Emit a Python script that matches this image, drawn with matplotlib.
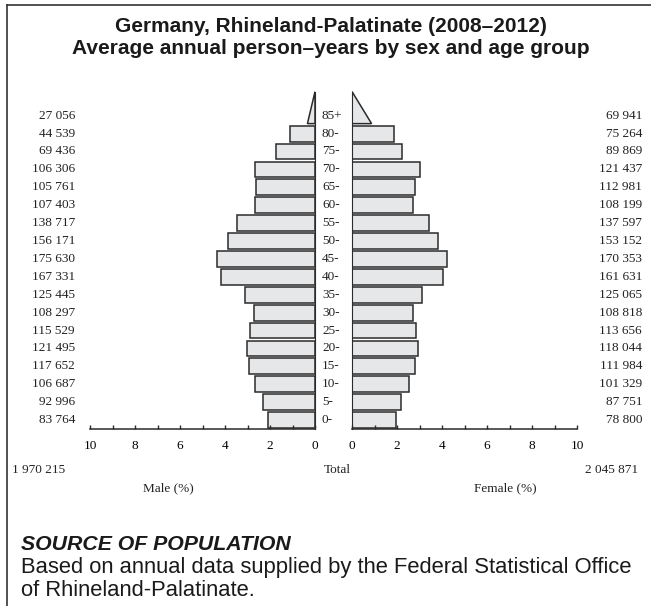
import numpy as np
import matplotlib
matplotlib.use("Agg")
import matplotlib.pyplot as plt
from matplotlib.patches import Polygon
from matplotlib.lines import Line2D

ages = ["0-", "5-", "10-", "15-", "20-", "25-", "30-", "35-", "40-", "45-",
        "50-", "55-", "60-", "65-", "70-", "75-", "80-", "85+"]
male = [83764, 92996, 106687, 117652, 121495, 115529, 108297, 125445, 167331,
        175630, 156171, 138717, 107403, 105761, 106306, 69436, 44539, 27056]
female = [78800, 87751, 101329, 111984, 118044, 113656, 108818, 125065, 161631,
          170353, 153152, 137597, 108199, 112981, 121437, 89869, 75264, 69941]
ticks = [0, 2, 4, 6, 8, 10]

W, H = 651, 606
serif = "Liberation Serif"
sans = "Liberation Sans"
face = "#e6e7e9"
edge = "#2b2b2b"


def fx(x):
    return x / W


def fy(y):
    return 1 - y / H


def fmt(n):
    return f"{n:,}".replace(",", " ")


total = sum(male) + sum(female)
male_pct = [100 * v / total for v in male]
female_pct = [100 * v / total for v in female]

fig = plt.figure(figsize=(W / 100, H / 100), dpi=100)

# frame: top and left only
fig.add_artist(Line2D([fx(7), 1], [fy(5), fy(5)], color="#333333", lw=1.2))
fig.add_artist(Line2D([fx(7), fx(7)], [fy(5), 0], color="#333333", lw=1.2))

fig.text(fx(331), fy(27), "Germany, Rhineland-Palatinate (2008–2012)",
         ha="center", va="center", fontsize=15, fontweight="bold", family=sans,
         color="#1a1a1a")
fig.text(fx(331), fy(48), "Average annual person–years by sex and age group",
         ha="center", va="center", fontsize=15, fontweight="bold", family=sans,
         color="#1a1a1a")

y_bot, y_top = 429, 88.9
bottom = fy(y_bot)
height = (y_bot - y_top) / H
axl = fig.add_axes([fx(90), bottom, (315 - 90) / W, height])
axr = fig.add_axes([fx(352), bottom, (577 - 352) / W, height])

n = len(ages)
pos = np.arange(n)
apex = 18.35
bh = 0.88

for ax, pct in [(axl, male_pct), (axr, female_pct)]:
    ax.barh(pos[:-1], pct[:-1], height=bh, color=face, edgecolor=edge, lw=1.1)
    base = pct[-1] / 2
    tri = Polygon([[0, pos[-1] - bh / 2], [base, pos[-1] - bh / 2], [0, apex]],
                  closed=True, facecolor=face, edgecolor=edge, lw=1.1)
    ax.add_patch(tri)
    ax.set_ylim(-0.5, 18.5)
    ax.set_xticks(ticks)
    ax.set_xticks(range(1, 10, 2), minor=True)
    ax.set_yticks([])
    ax.tick_params(axis="x", which="both", direction="in", length=3, width=1,
                   color=edge, pad=8, labelsize=9.5)
    for lab in ax.get_xticklabels():
        lab.set_family(serif)
    for s in ["top", "left", "right"]:
        ax.spines[s].set_visible(False)
    ax.spines["bottom"].set_color(edge)
    ax.spines["bottom"].set_linewidth(1.1)
    ax.patch.set_visible(False)

axl.set_xlim(10, 0)
axr.set_xlim(0, 10)
axl.spines["right"].set_visible(True)
axl.spines["right"].set_bounds(-0.5, apex)
axl.spines["right"].set_color(edge)
axr.spines["left"].set_visible(True)
axr.spines["left"].set_bounds(-0.5, apex)
axr.spines["left"].set_color(edge)

for i in range(n):
    yc = 420 - 17.9 * i
    fig.text(fx(75), fy(yc), fmt(male[i]), ha="right", va="center",
             fontsize=9.5, family=serif, color="#222222")
    fig.text(fx(642), fy(yc), fmt(female[i]), ha="right", va="center",
             fontsize=9.5, family=serif, color="#222222")
    fig.text(fx(322), fy(yc), ages[i], ha="left", va="center",
             fontsize=9.5, family=serif, color="#222222")

fig.text(fx(12), fy(470), fmt(sum(male)), ha="left", va="center",
         fontsize=9.5, family=serif, color="#222222")
fig.text(fx(337), fy(470), "Total", ha="center", va="center",
         fontsize=9.5, family=serif, color="#222222")
fig.text(fx(638), fy(470), fmt(sum(female)), ha="right", va="center",
         fontsize=9.5, family=serif, color="#222222")
fig.text(fx(168), fy(488), "Male (%)", ha="center", va="center",
         fontsize=9.5, family=serif, color="#222222")
fig.text(fx(505), fy(488), "Female (%)", ha="center", va="center",
         fontsize=9.5, family=serif, color="#222222")

fig.text(fx(21), fy(545), "SOURCE OF POPULATION", ha="left", va="center",
         fontsize=15.3, fontweight="bold", style="italic", family=sans,
         color="#1a1a1a")
fig.text(fx(21), fy(568), "Based on annual data supplied by the Federal Statistical Office",
         ha="left", va="center", fontsize=15.8, family=sans, color="#1a1a1a")
fig.text(fx(21), fy(591), "of Rhineland-Palatinate.",
         ha="left", va="center", fontsize=15.8, family=sans, color="#1a1a1a")

fig.savefig("out.png", dpi=100)
